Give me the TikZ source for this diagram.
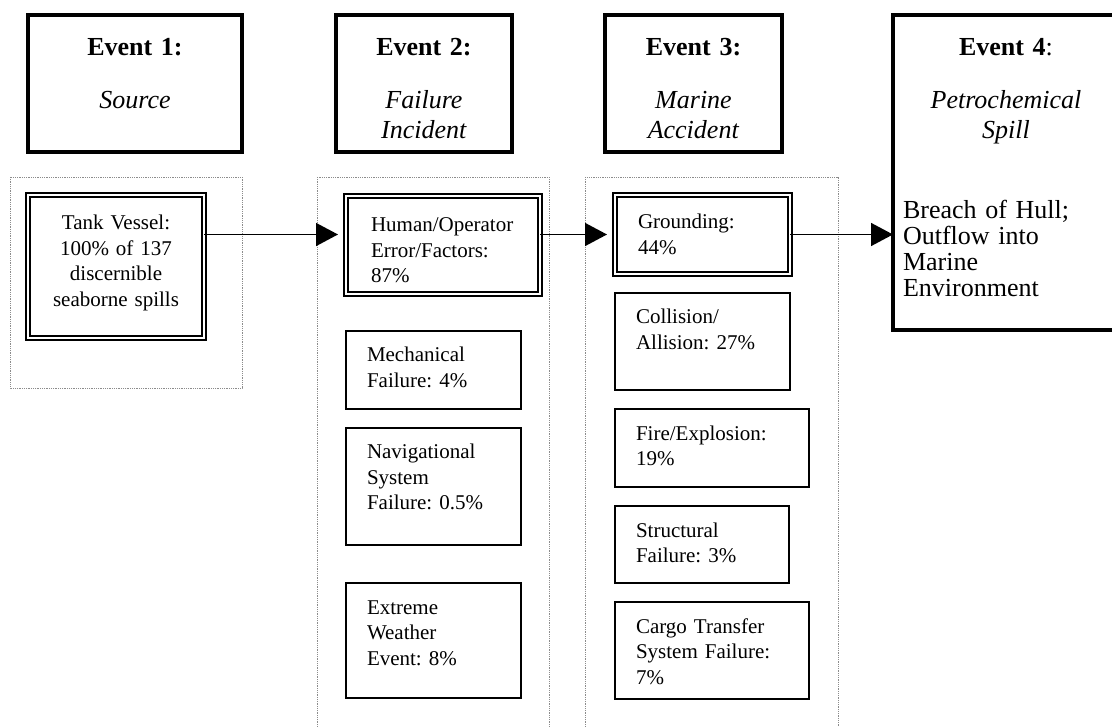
\documentclass[tikz,border=0pt]{standalone}
\usepackage{fontspec}
\setmainfont{Liberation Serif}
\frenchspacing
\usetikzlibrary{arrows.meta}

\begin{document}
\begin{tikzpicture}[x=1pt, y=-1pt,
  head/.style={draw, line width=3.5pt, anchor=north west, outer sep=0pt, inner xsep=10pt, inner ysep=0pt, align=center, text height=41pt, font=\fontsize{26}{30}\selectfont},
  cell/.style={draw, line width=1.4pt, anchor=north west, outer sep=0pt, inner xsep=21pt, inner ysep=0pt, align=left, text height=31pt, font=\fontsize{21}{25.5}\selectfont},
  dbl/.style={cell, double, double distance=1.8pt, line width=2.2pt, inner xsep=25pt, text height=35pt},
  group/.style={draw=black!45, densely dotted, line width=0.8pt},
  arr/.style={-{Triangle[length=22pt,width=23pt]}, line width=1.6pt}]
\path[use as bounding box, clip] (0,0) rectangle (1112,727);
% dotted groups
\draw[group] (10,177) rectangle (242,388);
\draw[group] (317,177) rectangle (549,740);
\draw[group] (585,177) rectangle (838,740);
% event headers
\node[head, text width=194pt, text depth=96pt] (ev1) at (28,15) {\textbf{Event 1:}\\[23pt]\textit{Source}};
\node[head, text width=156pt, text depth=96pt] (ev2) at (336,15) {\textbf{Event 2:}\\[23pt]\textit{Failure}\\\textit{Incident}};
\node[head, text width=157pt, text depth=96pt] (ev3) at (605,15) {\textbf{Event 3:}\\[23pt]\textit{Marine}\\\textit{Accident}};
\node[head, align=left, text width=206pt, text depth=274pt] (ev4) at (893,15) {{\centering\textbf{Event 4}:\\[23pt]\textit{Petrochemical}\\\textit{Spill}\par}
  \fontsize{26}{26}\selectfont\vspace{54pt}Breach of Hull;\\Outflow into\\Marine\\Environment\par};
% event 1
\node[dbl, align=center, text width=126pt, text depth=108pt] (tank) at (28,195) {Tank Vessel:\\100\% of 137\\discernible\\seaborne spills};
% event 2
\node[dbl, text width=144pt, text height=36pt, text depth=62pt] (human) at (346,196) {Human/Operator\\Error/Factors:\\87\%};
\node[cell, text width=133pt, text depth=47pt] (mech) at (346,331) {Mechanical\\Failure: 4\%};
\node[cell, text width=133pt, text depth=86pt] (nav) at (346,428) {Navigational\\System\\Failure: 0.5\%};
\node[cell, text width=133pt, text depth=84pt] (weather) at (346,583) {Extreme\\Weather\\Event: 8\%};
% event 3
\node[dbl, inner xsep=23pt, text width=129pt, text height=34pt, text depth=45pt] (ground) at (615,195) {Grounding:\\44\%};
\node[cell, text width=133pt, text depth=66pt] (coll) at (615,293) {Collision/\\Allision: 27\%};
\node[cell, text width=152pt, text depth=47pt] (fire) at (615,409) {Fire/Explosion:\\19\%};
\node[cell, text width=132pt, text depth=46pt] (struct) at (615,506) {Structural\\Failure: 3\%};
\node[cell, text width=152pt, text depth=66pt] (cargo) at (615,602) {Cargo Transfer\\System Failure:\\7\%};
% connectors
\draw[arr, shorten >=8pt] (tank.east |- ground) -- (human.west |- ground);
\draw[arr, shorten >=8pt] (human.east |- ground) -- (ground.west);
\draw[arr] (ground.east) -- (ev4.west |- ground.east);
\end{tikzpicture}
\end{document}
